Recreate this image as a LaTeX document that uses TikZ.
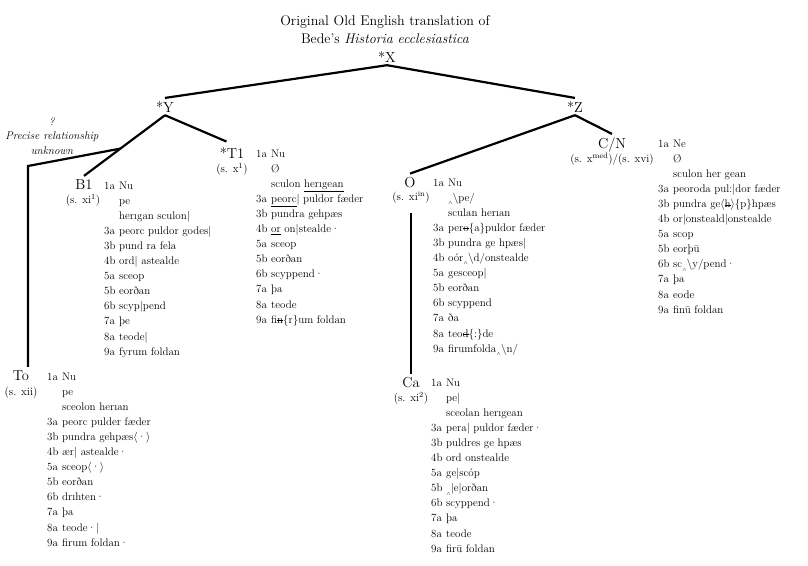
\documentclass[tikz,border=0pt]{standalone}
\usepackage{fontspec}
\newcommand\strk[1]{\setbox0\hbox{#1}\rlap{\raisebox{0.5ex}{\rule{\wd0}{0.5pt}}}#1}
\newcommand\ins{\raisebox{-0.7ex}{\tiny$\wedge$}}
\newcommand\bs{\textbackslash}
\newcommand\ang[1]{$\langle$#1$\rangle$}
\begin{document}
\begin{tikzpicture}[x=1pt,y=-1pt,
    title/.style={font=\fontsize{14}{17}\selectfont, inner sep=0pt, anchor=base},
    ms/.style={font=\fontsize{14.5}{17}\selectfont, inner sep=3pt, anchor=base},
    date/.style={font=\fontsize{11.2}{14}\selectfont, inner sep=1pt, anchor=base},
    note/.style={font=\itshape\fontsize{11.2}{14.5}\selectfont, inner sep=0pt, anchor=north, align=center},
    verses/.style={font=\fontsize{11}{15.1}\selectfont, inner sep=0pt, anchor=base west},
    branch/.style={line width=2.2pt}]
        \useasboundingbox (0,0) rectangle (808,565);

        %Title
        \node [title] (head1)at(385,25){Original Old English translation of};
        \node [title] (head2)at(385,43){Bede’s \textit{Historia ecclesiastica}};

        %Archetype and hyparchetypes
        \node [ms] (X)at(387,62){*X};
        \node [ms] (Y)at(165,112){*Y};
        \node [ms] (Z)at(575,112){*Z};

        %Note
        \node [note] (rel)at(52,117){?\\Precise relationship\\unknown};

        %T1
        \node [ms] (T1)at(232,158){*T1};
        \node [date] (T1d)at(232,172){(s. x\textsuperscript{1})};
        \node [verses] (T1v)at(256,157){\begin{tabular}[t]{@{}l@{\ }l@{}}
            1a & Nu\\
               & Ø\\
               & sculon \underline{herıgean}\\
            3a & \underline{peorc}| puldor fæder\\
            3b & pundra gehpæs\\
            4b & \underline{or} on|stealde·\\
            5a & sceop\\
            5b & eorðan\\
            6b & scyppend·\\
            7a & þa\\
            8a & teode\\
            9a & fi\strk{n}\{r\}um foldan
        \end{tabular}};

        %B1
        \node [ms] (B1)at(84,189){B1};
        \node [date] (B1d)at(83,203){(s. xi\textsuperscript{1})};
        \node [verses] (B1v)at(104,189){\begin{tabular}[t]{@{}l@{\ }l@{}}
            1a & Nu\\
               & pe\\
               & herıgan sculon|\\
            3a & peorc puldor godes|\\
            3b & pund ra fela\\
            4b & ord| astealde\\
            5a & sceop\\
            5b & eorðan\\
            6b & scyp|pend\\
            7a & þe\\
            8a & teode|\\
            9a & fyrum foldan
        \end{tabular}};

        %To
        \node [ms] (To)at(21,380){To};
        \node [date] (Tod)at(21,395){(s. xii)};
        \node [verses] (Tov)at(47,380){\begin{tabular}[t]{@{}l@{\ }l@{}}
            1a & Nu\\
               & pe\\
               & sceolon herıan\\
            3a & peorc pulder fæder\\
            3b & pundra gehpæs\ang{·}\\
            4b & ær| astealde·\\
            5a & sceop\ang{·}\\
            5b & eorðan\\
            6b & drıhten·\\
            7a & þa\\
            8a & teode·|\\
            9a & firum foldan·
        \end{tabular}};

        %C/N
        \node [ms] (CN)at(612,148){C/N};
        \node [date] (CNd)at(612,162){(s. x\textsuperscript{med})/(s. xvi)};
        \node [verses] (CNv)at(658,147){\begin{tabular}[t]{@{}l@{\ }l@{}}
            1a & Ne\\
               & Ø\\
               & sculon her gean\\
            3a & peoroda pul:|dor fæder\\
            3b & pundra ge\ang{\strk{h}}\{p\}hpæs\\
            4b & or|onsteald|onstealde\\
            5a & scop\\
            5b & eorþū\\
            6b & sc\ins\bs y/pend·\\
            7a & þa\\
            8a & eode\\
            9a & finū foldan
        \end{tabular}};

        %O
        \node [ms] (O)at(410,187){O};
        \node [date] (Od)at(411,200){(s. xi\textsuperscript{in})};
        \node [verses] (Ov)at(433,186){\begin{tabular}[t]{@{}l@{\ }l@{}}
            1a & Nu\\
               & \ins\bs pe/\\
               & sculan herıan\\
            3a & per\strk{o}\{a\}puldor fæder\\
            3b & pundra ge hpæs|\\
            4b & oór\ins\bs d/onstealde\\
            5a & gesceop|\\
            5b & eorðan\\
            6b & scyppend\\
            7a & ða\\
            8a & teo\strk{d}\{:\}de\\
            9a & firumfolda\ins\bs n/
        \end{tabular}};

        %Ca
        \node [ms] (Ca)at(411,387){Ca};
        \node [date] (Cad)at(411,401){(s. xi\textsuperscript{2})};
        \node [verses] (Cav)at(431,386){\begin{tabular}[t]{@{}l@{\ }l@{}}
            1a & Nu\\
               & pe|\\
               & sceolan herıgean\\
            3a & pera| puldor fæder·\\
            3b & puldres ge hpæs\\
            4b & ord onstealde\\
            5a & ge|scóp\\
            5b & \ins|e|orðan\\
            6b & scyppend·\\
            7a & þa\\
            8a & teode\\
            9a & firū foldan
        \end{tabular}};

        %Stemma lines
        \draw [branch](X.south)--(Y.north);
        \draw [branch](X.south)--(Z.north);
        \draw [branch](Y.south)--coordinate[pos=0.55](split)(B1.north);
        \draw [branch, shorten >=6pt](Y.south)--(T1.north);
        \draw [branch](Z.south)--(O.north);
        \draw [branch](Z.south)--(CN.north);
        \coordinate (bend)at(28,166);
        \draw [branch](split)--(bend)--(bend|-To.north);
        \draw [branch, shorten <=9pt](Od.south)--(Od.south|-Ca.north);

    \end{tikzpicture}
\end{document}
